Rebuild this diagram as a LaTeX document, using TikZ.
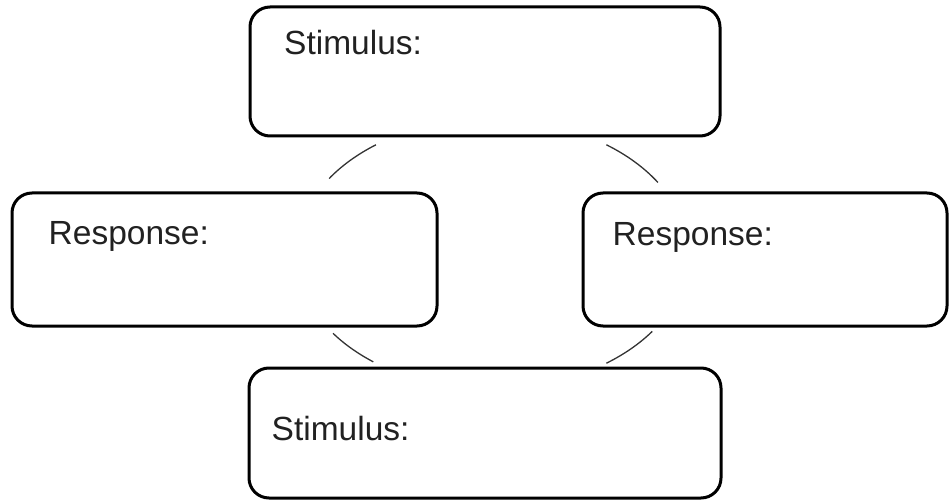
\documentclass[tikz,border=0pt]{standalone}
\usepackage{fontspec}
\setmainfont{Liberation Sans}
\begin{document}
\begin{tikzpicture}[x=1pt,y=1pt,
  box/.style={draw=black,line width=3pt,rounded corners=20pt,fill=white,inner sep=0pt},
  lbl/.style={anchor=base west,inner sep=0pt,text=black!87,font=\fontsize{33.5}{40}\selectfont},
  link/.style={draw=black!80,line width=1.3pt}]
\useasboundingbox (0,0) rectangle (949,501);
% ring centre
\coordinate (c) at (490,247);
% boxes
\node[box,minimum width=470pt,minimum height=129pt] (top) at (485,429.5) {};
\node[box,minimum width=425pt,minimum height=133pt] (left) at (224.5,241.5) {};
\node[box,minimum width=364pt,minimum height=133pt] (right) at (765,241.5) {};
\node[box,minimum width=472pt,minimum height=130pt] (bottom) at (485,68) {};
% labels
\node[lbl] (tl) at (284,446) {Stimulus:};
\node[lbl] (ll) at (48.5,256) {Response:};
\node[lbl] (rl) at (612.5,255) {Response:};
\node[lbl] (bl) at (271.5,61) {Stimulus:};
% connecting arcs (parts of one ring)
\draw[link] ([shift={(126:194 and 135)}]c) arc[start angle=126,end angle=146,x radius=194,y radius=135];
\draw[link] ([shift={(32:198 and 135)}]c) arc[start angle=32,end angle=54,x radius=198,y radius=135];
\draw[link] ([shift={(216:194 and 135)}]c) arc[start angle=216,end angle=233,x radius=194,y radius=135];
\draw[link] ([shift={(306:198 and 135)}]c) arc[start angle=306,end angle=325,x radius=198,y radius=135];
\end{tikzpicture}
\end{document}
